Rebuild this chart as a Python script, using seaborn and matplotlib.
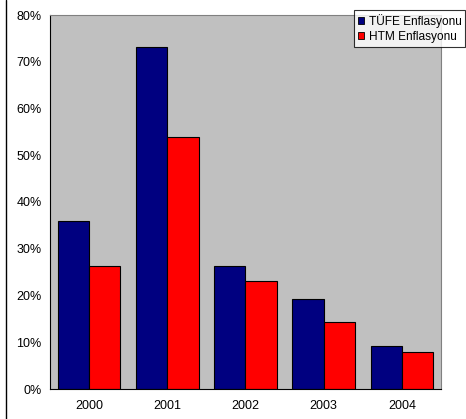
import matplotlib
matplotlib.use("Agg")
import matplotlib.pyplot as plt
import seaborn as sns
import pandas as pd
from matplotlib.ticker import PercentFormatter
from matplotlib.patches import Patch

years = ["2000", "2001", "2002", "2003", "2004"]
tufe = [35.9, 73.2, 26.4, 19.3, 9.2]
htm = [26.3, 54.0, 23.2, 14.4, 7.9]
series_names = ["TÜFE Enflasyonu", "HTM Enflasyonu"]
colors = ["#000080", "#FF0000"]

df = pd.DataFrame({
    "Yıl": years * 2,
    "Değer": tufe + htm,
    "Seri": [series_names[0]] * len(years) + [series_names[1]] * len(years),
})

sns.set_style("white")
plt.rcParams["font.family"] = ["Liberation Sans", "DejaVu Sans"]
plt.rcParams["text.color"] = "black"
plt.rcParams["xtick.color"] = "black"
plt.rcParams["ytick.color"] = "black"

fig = plt.figure(figsize=(4.66, 4.19), dpi=100)
ax = fig.add_axes([50 / 466, 1 - 389 / 419, (441 - 50) / 466, (389 - 15) / 419])

sns.barplot(data=df, x="Yıl", y="Değer", hue="Seri", palette=colors,
            width=0.8, edgecolor="black", linewidth=0.8, saturation=1,
            ax=ax, legend=False)

ax.set_facecolor("#C0C0C0")
ax.set_ylim(0, 80)
ax.set_yticks(range(0, 81, 10))
ax.yaxis.set_major_formatter(PercentFormatter(decimals=0))
ax.set_xlabel("")
ax.set_ylabel("")
ax.set_xticks([i - 0.5 for i in range(len(years) + 1)], minor=True)
ax.tick_params(axis="x", which="major", length=0, labelsize=9, pad=8)
ax.tick_params(axis="x", which="minor", length=4, direction="out", width=0.8)
ax.tick_params(axis="y", length=4, direction="out", width=0.8, labelsize=9, pad=2)
ax.set_xlim(-0.5, len(years) - 0.5)

for side in ["left", "bottom"]:
    ax.spines[side].set_color("black")
    ax.spines[side].set_linewidth(0.8)
for side in ["top", "right"]:
    ax.spines[side].set_color("#808080")
    ax.spines[side].set_linewidth(0.8)

handles = [Patch(facecolor=c, edgecolor="black", linewidth=0.6) for c in colors]
leg = fig.legend(handles, series_names, loc="upper right",
                 bbox_to_anchor=(465 / 466, 1 - 10 / 419),
                 fontsize=8.6, frameon=True, fancybox=False,
                 handlelength=0.55, handleheight=0.55, handletextpad=0.35,
                 borderpad=0.3, labelspacing=0.3, borderaxespad=0)
leg.get_frame().set_edgecolor("black")
leg.get_frame().set_linewidth(0.8)

# outer frame line on the left edge of the figure
fig.add_artist(plt.Line2D([6 / 466, 6 / 466], [0, 1], color="black",
                          linewidth=1.0, transform=fig.transFigure))

fig.savefig("out.png", dpi=100)
